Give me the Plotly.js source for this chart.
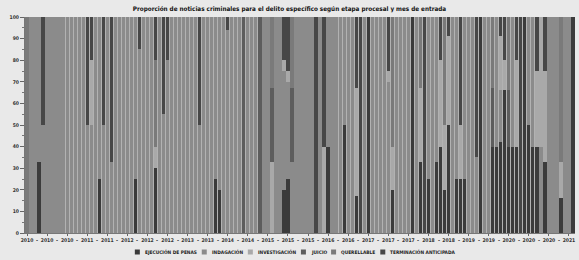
<!DOCTYPE html>
<html><head><meta charset="utf-8">
<script src="https://cdn.plot.ly/plotly-3.0.1.min.js"></script>
<style>html,body{margin:0;padding:0;background:#e9e9e9;}#chart{width:579px;height:260px;}</style>
</head><body><div id="chart"></div>
<script>
const months = [
"2010-01","2010-02","2010-03","2010-04","2010-05","2010-06","2010-07","2010-08","2010-09","2010-10","2010-11","2010-12",
"2011-01","2011-02","2011-03","2011-04","2011-05","2011-06","2011-07","2011-08","2011-09","2011-10","2011-11","2011-12",
"2012-01","2012-02","2012-03","2012-04","2012-05","2012-06","2012-07","2012-08","2012-09","2012-10","2012-11","2012-12",
"2013-01","2013-02","2013-03","2013-04","2013-05","2013-06","2013-07","2013-08","2013-09","2013-10","2013-11","2013-12",
"2014-01","2014-02","2014-03","2014-04","2014-05","2014-06","2014-07","2014-08","2014-09","2014-10","2014-11","2014-12",
"2015-01","2015-02","2015-03","2015-04","2015-05","2015-06","2015-07","2015-08","2015-09","2015-10","2015-11","2015-12",
"2016-01","2016-02","2016-03","2016-04","2016-05","2016-06","2016-07","2016-08","2016-09","2016-10","2016-11","2016-12",
"2017-01","2017-02","2017-03","2017-04","2017-05","2017-06","2017-07","2017-08","2017-09","2017-10","2017-11","2017-12",
"2018-01","2018-02","2018-03","2018-04","2018-05","2018-06","2018-07","2018-08","2018-09","2018-10","2018-11","2018-12",
"2019-01","2019-02","2019-03","2019-04","2019-05","2019-06","2019-07","2019-08","2019-09","2019-10","2019-11","2019-12",
"2020-01","2020-02","2020-03","2020-04","2020-05","2020-06","2020-07","2020-08","2020-09","2020-10","2020-11","2020-12",
"2021-01","2021-02","2021-03","2021-04","2021-05"];

const ejecucionDePenas = [
0,0,0,33,0,0,0,0,0,0,0,0,
0,0,0,0,0,0,25,0,0,0,0,0,
0,0,0,25,0,0,0,0,30,0,0,0,
0,0,0,0,0,0,0,0,0,0,0,25,
20,0,0,0,0,0,0,0,0,0,0,0,
0,0,0,0,20,25,0,0,0,0,0,0,
0,0,0,40,0,0,0,50,0,0,17,0,
0,100,0,0,0,0,0,20,0,0,0,0,
100,0,33,0,25,0,33,40,20,50,0,25,
25,25,0,0,0,100,0,0,40,40,42,66,
40,40,40,0,100,50,40,40,0,33,0,0,
0,16,0,0,100];

const indagacion = [
0,100,100,67,50,100,100,100,100,100,100,100,
100,100,100,50,50,100,75,50,100,33,100,100,
100,100,100,75,85,100,100,100,0,100,55,80,
100,100,100,100,100,100,100,50,100,100,100,75,
80,100,94,100,100,100,0,100,100,100,0,100,
100,0,100,100,55,45,33,100,100,100,100,100,
0,100,0,60,100,100,100,50,100,100,0,0,
100,0,100,100,100,100,70,0,100,100,100,100,
0,100,0,0,75,100,67,0,0,0,100,75,
0,75,100,100,35,0,100,100,0,60,24,0,
0,60,0,0,0,50,60,0,40,0,100,100,
100,0,100,100,0];

const investigacion = [
0,0,0,0,0,0,0,0,0,0,0,0,
0,0,0,0,30,0,0,0,0,0,0,0,
0,0,0,0,0,0,0,0,10,0,0,0,
0,0,0,0,0,0,0,0,0,0,0,0,
0,0,0,0,0,0,0,0,0,0,0,0,
0,33,0,0,5,5,0,0,0,0,0,0,
0,0,40,0,0,0,0,0,0,0,50,0,
0,0,0,0,0,0,5,20,0,0,0,0,
0,0,34,0,0,0,0,40,30,41,0,0,
25,0,0,0,0,0,0,0,0,0,25,14,
0,0,40,0,0,0,0,35,60,42,0,0,
0,17,0,0,0];

const juicio = [
0,0,0,0,0,0,0,0,0,0,0,0,
0,0,0,0,0,0,0,0,0,0,0,0,
0,0,0,0,0,0,0,0,0,0,0,0,
0,0,0,0,0,0,0,0,0,0,0,0,
0,0,0,0,0,0,100,0,0,0,100,0,
0,34,0,0,0,0,34,0,0,0,0,0,
0,0,0,0,0,0,0,0,0,0,0,0,
0,0,0,0,0,0,0,0,0,0,0,0,
0,0,0,0,0,0,0,0,0,0,0,0,
0,0,0,0,0,0,0,0,27,0,0,0,
26,0,0,0,0,0,0,0,0,0,0,0,
0,0,0,0,0];

const querellable = [
100,0,0,0,0,0,0,0,0,0,0,0,
0,0,0,0,0,0,0,0,0,0,0,0,
0,0,0,0,0,0,0,0,40,0,0,0,
0,0,0,0,0,0,0,0,0,0,0,0,
0,0,0,0,0,0,0,0,0,0,0,0,
0,33,0,0,0,0,33,0,0,0,0,0,
0,0,0,0,0,0,0,0,0,0,0,0,
0,0,0,0,0,0,0,60,0,0,0,0,
0,0,33,0,0,0,0,0,50,0,0,0,
0,0,0,0,0,0,0,0,33,0,0,0,
34,0,0,0,0,0,0,0,0,0,0,0,
0,67,0,0,0];

const terminacionAnticipada = [
0,0,0,0,50,0,0,0,0,0,0,0,
0,0,0,50,20,0,0,50,0,67,0,0,
0,0,0,0,15,0,0,0,20,0,45,20,
0,0,0,0,0,0,0,50,0,0,0,0,
0,0,6,0,0,0,0,0,0,0,0,0,
0,0,0,0,20,25,0,0,0,0,0,0,
100,0,60,0,0,0,0,0,0,0,33,100,
0,0,0,0,0,0,25,0,0,0,0,0,
0,0,0,100,0,0,0,20,0,9,0,0,
50,0,0,0,65,0,0,0,0,0,9,20,
0,0,20,100,0,0,0,25,0,25,0,0,
0,0,0,0,0];

const seriesNames = ["EJECUCIÓN DE PENAS","INDAGACIÓN","INVESTIGACIÓN","JUICIO","QUERELLABLE","TERMINACIÓN ANTICIPADA"];
const seriesValues = [ejecucionDePenas, indagacion, investigacion, juicio, querellable, terminacionAnticipada];
const seriesColors = ["#3b3b3b","#8b8b8b","#a9a9a9","#5d5d5d","#7a7a7a","#474747"];

const yTicks = [0,10,20,30,40,50,60,70,80,90,100];
const labelStep = 5;
const tickCats = months.filter((m,i)=> i % labelStep === 0);
const tickText = tickCats.map(m => m.slice(0,4));

const FAM = "DejaVu Sans Condensed";
const FONT = FAM + ", sans-serif";

const traces = seriesNames.map((name,k)=>({
  type:'bar', name:name, x:months, y:seriesValues[k],
  marker:{color:seriesColors[k], line:{width:0}},
  showlegend:false
}));

const W=579, H=260, L=25, R=4, T=17, B=27;
const pw = W-L-R, ph = H-T-B;
const px2x = p => (p-L)/pw;
const py2y = p => (H-B-p)/ph;

const annotations = [];
for (let k=0; k<tickCats.length-1; k++){
  annotations.push({xref:'x', yref:'paper', x:k*labelStep+labelStep/2, y:py2y(240),
    text:'<b>-</b>', showarrow:false, font:{family:FONT,size:5.5,color:'#333'}, yanchor:'middle'});
}

// manual compact legend, centred like the reference
const LFS = 4.8, SW = 5, SGAP = 3, IGAP = 7, LCENTER = 294;
const ctx = document.createElement('canvas').getContext('2d');
ctx.font = 'bold ' + LFS + 'px "' + FAM + '"';
const widths = seriesNames.map(n => ctx.measureText(n).width);
const total = widths.reduce((a,w)=>a+SW+SGAP+w,0) + IGAP*(seriesNames.length-1);
let cx = LCENTER - total/2;
const shapes = [];
seriesNames.forEach((name,k)=>{
  shapes.push({type:'rect', xref:'paper', yref:'paper', x0:px2x(cx), x1:px2x(cx+SW), y0:py2y(254.5), y1:py2y(249.5),
    fillcolor:seriesColors[k], line:{width:0}});
  annotations.push({xref:'paper', yref:'paper', x:px2x(cx+SW+SGAP), y:py2y(252), xanchor:'left', yanchor:'middle',
    text:'<b>'+name+'</b>', showarrow:false, font:{family:FONT,size:LFS,color:'#222'}});
  cx += SW + SGAP + widths[k] + IGAP;
});

const layout = {
  width:W, height:H,
  margin:{l:L, r:R, t:T, b:B, pad:0},
  paper_bgcolor:'#e9e9e9', plot_bgcolor:'#b2b2b2',
  barmode:'stack', bargap:0.18,
  title:{text:'<b>Proporción de noticias criminales para el delito específico según etapa procesal y mes de entrada</b>',
    font:{family:FONT, size:6.3, color:'#111'}, x:0.5, xanchor:'center', y:1-9/H, yref:'container', yanchor:'middle'},
  xaxis:{type:'category', tickmode:'array', tickvals:tickCats, ticktext:tickText,
    tickfont:{family:FONT, size:5, color:'#333', weight:'bold'},
    ticks:'outside', ticklen:2, tickcolor:'#666', showline:true, linecolor:'#777', linewidth:1,
    showgrid:false, zeroline:false, fixedrange:true},
  yaxis:{range:[0,100], tickmode:'array', tickvals:yTicks,
    tickfont:{family:FONT, size:5, color:'#333', weight:'bold'},
    ticks:'outside', ticklen:4, tickcolor:'#666', showline:true, linecolor:'#777', linewidth:1,
    minor:{tickmode:'linear', tick0:0, dtick:5, ticks:'outside', ticklen:2, tickcolor:'#777', showgrid:false},
    showgrid:false, zeroline:false, fixedrange:true},
  annotations:annotations,
  shapes:shapes,
  showlegend:false
};
Plotly.newPlot('chart', traces, layout, {staticPlot:true, displayModeBar:false});
</script>
</body></html>
